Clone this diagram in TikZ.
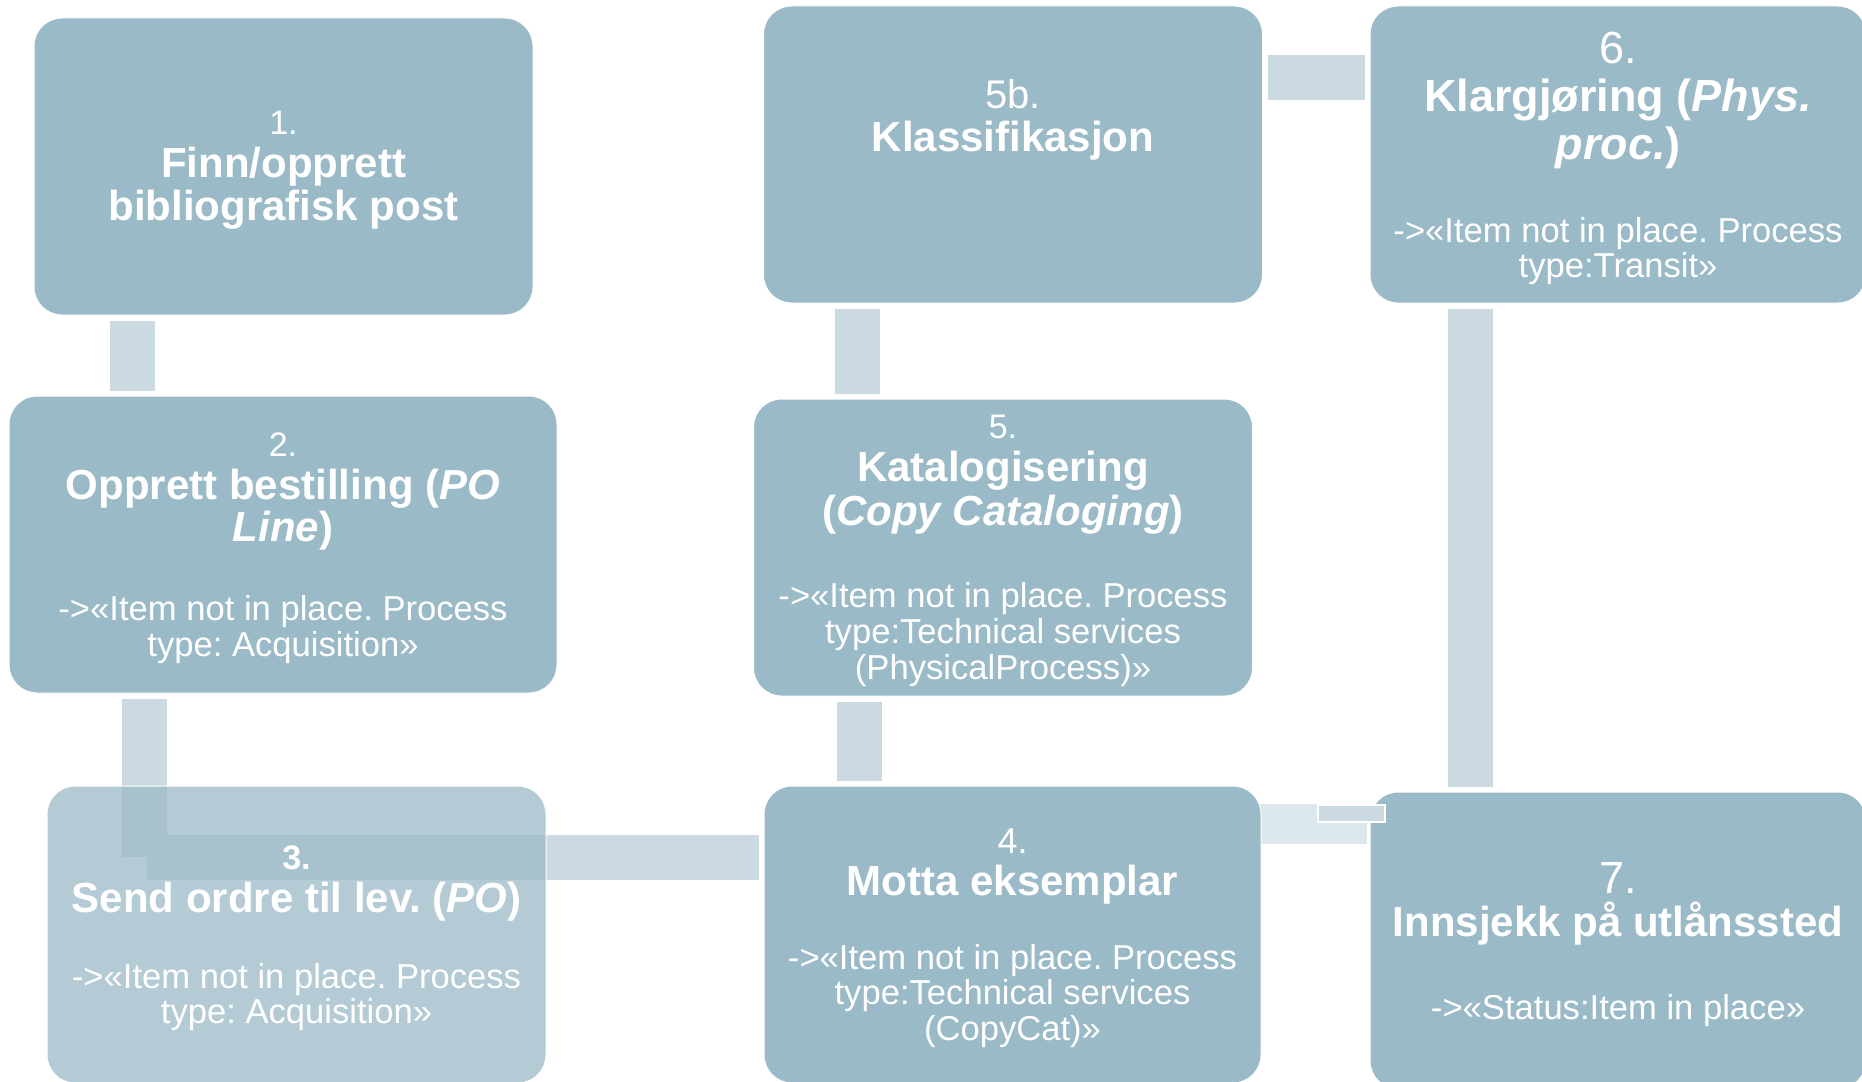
\documentclass[tikz,border=0pt]{standalone}
\usepackage{fontspec}
\setmainfont{Liberation Sans}
\usetikzlibrary{backgrounds}
\definecolor{boxblue}{RGB}{155,186,199}
\definecolor{barblue}{RGB}{203,218,224}
\definecolor{barlight}{RGB}{221,232,236}
\frenchspacing
\newcommand\boxfont{\fontsize{17.3}{0}\selectfont\lineskiplimit=-100pt\relax}
\newcommand\boxnum[2]{{\fontsize{#1}{0}\selectfont\rule{0pt}{\dimexpr0.72em+3pt\relax}#2}}
\newcommand\boxtitle[2]{{\bfseries\fontsize{#1}{0}\selectfont #2}}
\tikzset{
  stepbox/.style={rectangle, rounded corners=14pt, fill=boxblue, draw=white,
    line width=0.5pt, text=white, align=center, inner sep=0pt,
    minimum width=249.5pt, minimum height=148.5pt, font=\boxfont},
  linkbar/.style={draw=barblue, line width=22.5pt, shorten <=2.5pt, shorten >=2.5pt}
}
\begin{document}
\begin{tikzpicture}[x=0.5pt,y=-0.5pt]
\useasboundingbox (0,0) rectangle (1862,1081);
% steps, left column
\node[stepbox] (b1) at (283.5,166.5) {\boxnum{17}{1.}\\[21.5pt]\boxtitle{21}{Finn/opprett}\\[21.25pt]\boxtitle{21}{bibliografisk post}};
\node[stepbox, minimum width=274pt] (b2) at (283,544.5) {\boxnum{17}{2.}\\[21.5pt]\boxtitle{21}{Opprett bestilling (\textit{PO}}\\[21.25pt]\boxtitle{21}{\textit{Line})}\\[39.5pt]->«Item not in place. Process\\[17.75pt]type: Acquisition»};
\node[stepbox, fill opacity=0.75, text opacity=1] (b3) at (296.5,934.5) {\boxtitle{17}{\rule{0pt}{\dimexpr0.72em+3pt\relax}3.}\\[21.5pt]\boxtitle{21}{Send ordre til lev. (\textit{PO})}\\[38pt]->«Item not in place. Process\\[17.5pt]type: Acquisition»};
% middle column
\node[stepbox, minimum width=248.5pt] (b4) at (1012.5,934.5) {\boxnum{18}{4.}\\[21pt]\boxtitle{21}{Motta eksemplar}\\[36.75pt]->«Item not in place. Process\\[17.75pt]type:Technical services\\[17.75pt](CopyCat)»};
\node[stepbox] (b5) at (1003,547.5) {\boxnum{17}{5.}\\[21.5pt]\boxtitle{21}{Katalogisering}\\[22pt]\boxtitle{21}{(\textit{Copy Cataloging})}\\[41pt]->«Item not in place. Process\\[17.75pt]type:Technical services\\[18pt](PhysicalProcess)»};
\node[stepbox] (b5b) at (1013,154.5) {\boxnum{20}{5b.}\\[21.75pt]\boxtitle{21}{Klassifikasjon}\\[42pt]\mbox{}};
% right column
\node[stepbox, minimum width=248pt] (b6) at (1618,154.5) {\boxnum{22.5}{6.}\\[24pt]\boxtitle{22.5}{Klargjøring (\textit{Phys.}}\\[24pt]\boxtitle{22.5}{\textit{proc.})}\\[41.5pt]->«Item not in place. Process\\[17.5pt]type:Transit»};
\node[stepbox, minimum width=248pt] (b7) at (1618,940.5) {\boxnum{22.5}{7.}\\[21.5pt]\boxtitle{21}{Innsjekk på utlånssted}\\[41.5pt]->«Status:Item in place»};
% links behind the steps
\coordinate (elbow) at (144,857);
\begin{scope}[on background layer]
\draw[linkbar] (b1.south -| 132.5,0) -- (b2.north -| 132.5,0);
\draw[linkbar, shorten >=0pt] (b2.south -| elbow) -- (elbow);
\draw[linkbar, shorten <=0pt] ([xshift=1.5pt]elbow) -- (b4.west |- elbow);
\draw[linkbar] (b4.north -| 859.5,0) -- (b5.south -| 859.5,0);
\draw[linkbar] (b5.north -| 857.5,0) -- (b5b.south -| 857.5,0);
\draw[linkbar] (b5b.east |- 0,77.5) -- (b6.west |- 0,77.5);
\draw[linkbar] (b6.south -| 1470.5,0) -- (b7.north -| 1470.5,0);
\draw[linkbar, draw=barlight, line width=20pt, shorten <=-3pt, shorten >=1.5pt] (b4.east |- 0,824) -- (b7.west |- 0,824);
\end{scope}
\draw[white, line width=1.2pt, fill=barblue] (1318,805) rectangle (1385,822);
\end{tikzpicture}
\end{document}
